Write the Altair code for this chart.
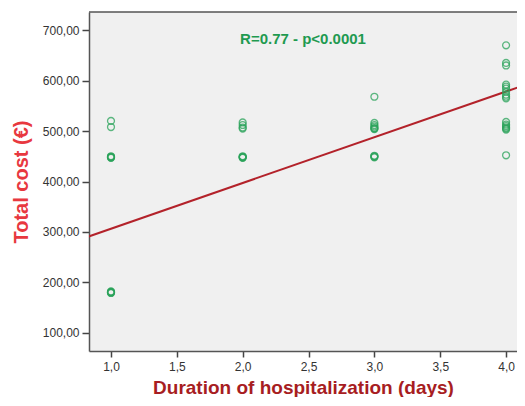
import altair as alt
import pandas as pd

# Scatter data: duration (days) and total cost (EUR); repeats stand for overlapping points
dur_1 = [520, 508, 450, 449, 448, 448, 447, 182, 181, 180, 180, 179]
dur_2 = [517, 512, 507, 505, 450, 449, 448, 448, 447]
dur_3 = [568, 516, 512, 509, 506, 505, 504, 451, 450, 449, 448]
dur_4 = [670, 635, 630, 592, 588, 584, 578, 572, 568, 565, 518, 513, 510, 507, 505, 503, 452]

fit_x = [0.83, 4.15]
fit_y = [291, 592]

annotation = ["R=0.77  -  p<0.0001"]
x_ticks = [1.0, 1.5, 2.0, 2.5, 3.0, 3.5, 4.0]
y_ticks = [100, 200, 300, 400, 500, 600, 700]

rows = []
for d, vals in [(1, dur_1), (2, dur_2), (3, dur_3), (4, dur_4)]:
    for v in vals:
        rows.append({"days": d, "cost": v})
pts = pd.DataFrame(rows)
fit = pd.DataFrame({"days": fit_x, "cost": fit_y})
ann = pd.DataFrame({"label": annotation})

W, H = 428, 339
FONT = "Liberation Sans"

xscale = alt.Scale(domain=[0.833, 4.083], nice=False, zero=False)
yscale = alt.Scale(domain=[64, 736], nice=False, zero=False)

xaxis = alt.Axis(
    values=x_ticks,
    labelExpr="replace(format(datum.value, '.1f'), '.', ',')",
    title="Duration of hospitalization (days)",
    titleColor="#a71d22", titleFontSize=19, titleFontWeight="bold", titleFont=FONT,
    titlePadding=6,
    labelFont=FONT, labelFontSize=12, labelColor="#333333", labelPadding=4,
    tickSize=6, tickColor="#444444", tickWidth=1.5,
    domainColor="#555555", domainWidth=1.5, grid=False,
)
yaxis = alt.Axis(
    values=y_ticks,
    labelExpr="replace(format(datum.value, '.2f'), '.', ',')",
    title="Total cost (€)",
    titleColor="#e8383f", titleFontSize=20, titleFontWeight="bold", titleFont=FONT,
    titlePadding=11,
    labelFont=FONT, labelFontSize=12, labelColor="#333333", labelPadding=3,
    tickSize=7, tickColor="#444444", tickWidth=1.5,
    domainColor="#555555", domainWidth=1.5, grid=False,
)

points = alt.Chart(pts).mark_point(
    shape="circle", filled=False, size=48, strokeWidth=1.3,
    color="#2aa35a", opacity=0.75,
).encode(
    x=alt.X("days:Q", scale=xscale, axis=xaxis),
    y=alt.Y("cost:Q", scale=yscale, axis=yaxis),
)

line = alt.Chart(fit).mark_line(color="#b3222a", strokeWidth=2, clip=True).encode(
    x=alt.X("days:Q", scale=xscale),
    y=alt.Y("cost:Q", scale=yscale),
)

top_border = alt.Chart(ann).mark_rule(color="#555555", strokeWidth=1.5).encode(
    x=alt.value(0), x2=alt.value(W), y=alt.value(0)
)

text = alt.Chart(ann).mark_text(
    font=FONT, fontSize=15, fontWeight="bold", color="#1f9a50", align="center", baseline="middle"
).encode(
    x=alt.value(214), y=alt.value(27), text="label:N"
)

chart = alt.layer(line, points, text, top_border).properties(
    width=W, height=H,
    autosize=alt.AutoSizeParams(type="none"),
    padding={"left": 81, "top": 4, "right": 0, "bottom": 46},
    background="white",
).configure_view(fill="#f0f0f0", strokeWidth=0)

chart.save("out.html", embed_options={"renderer": "svg", "actions": False})
